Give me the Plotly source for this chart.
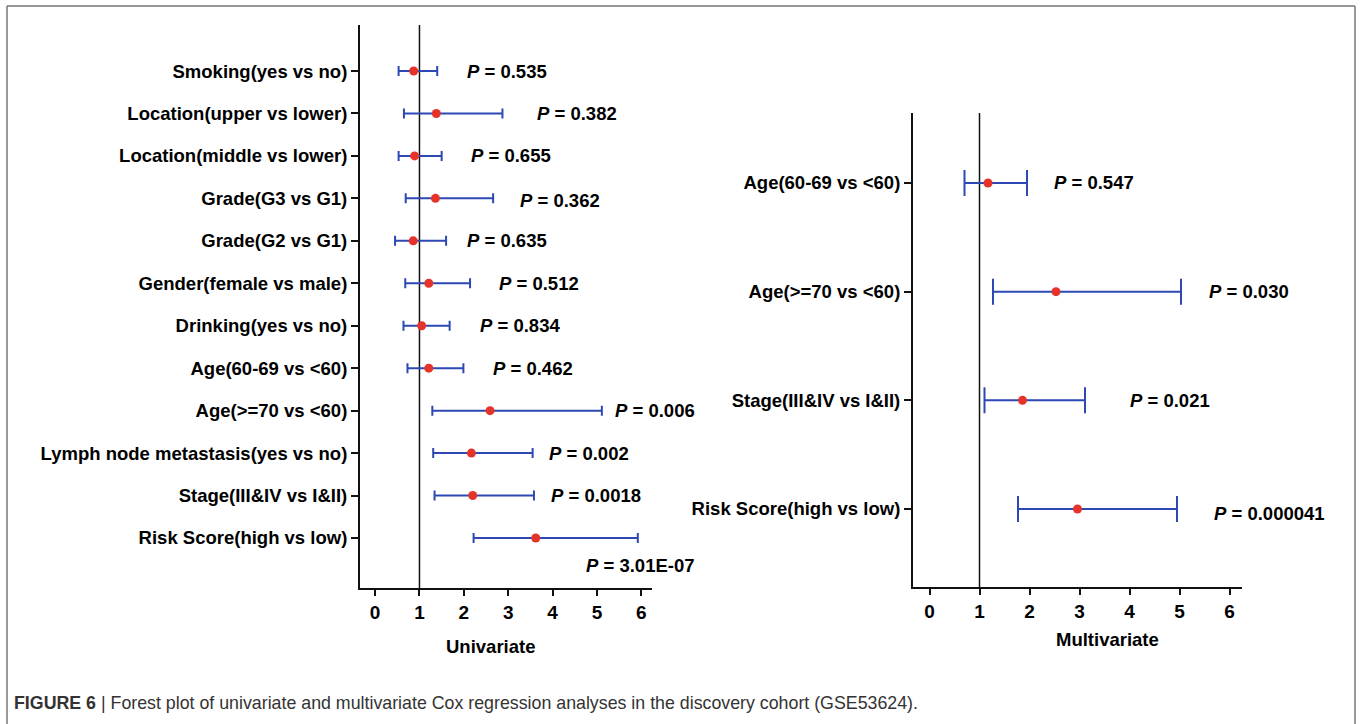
import plotly.graph_objects as go

W, H = 1362, 724

# ---------------- data ----------------
uni_labels = ["Smoking(yes vs no)", "Location(upper vs lower)", "Location(middle vs lower)",
              "Grade(G3 vs G1)", "Grade(G2 vs G1)", "Gender(female vs male)",
              "Drinking(yes vs no)", "Age(60-69 vs <60)", "Age(>=70 vs <60)",
              "Lymph node metastasis(yes vs no)", "Stage(III&IV vs I&II)", "Risk Score(high vs low)"]
uni_hr = [0.87, 1.38, 0.89, 1.36, 0.86, 1.21, 1.05, 1.21, 2.59, 2.17, 2.20, 3.62]
uni_lo = [0.53, 0.65, 0.53, 0.69, 0.45, 0.68, 0.64, 0.73, 1.29, 1.31, 1.34, 2.22]
uni_hi = [1.40, 2.87, 1.50, 2.66, 1.60, 2.14, 1.68, 1.99, 5.11, 3.55, 3.58, 5.92]
uni_p = ["0.535", "0.382", "0.655", "0.362", "0.635", "0.512", "0.834", "0.462",
         "0.006", "0.002", "0.0018", "3.01E-07"]

multi_labels = ["Age(60-69 vs <60)", "Age(>=70 vs <60)", "Stage(III&IV vs I&II)", "Risk Score(high vs low)"]
multi_hr = [1.17, 2.53, 1.86, 2.96]
multi_lo = [0.70, 1.27, 1.10, 1.77]
multi_hi = [1.95, 5.03, 3.11, 4.95]
multi_p = ["0.547", "0.030", "0.021", "0.000041"]

x_ticks = [0, 1, 2, 3, 4, 5, 6]

# ---------------- layout helpers (label placement) ----------------
uni_px = [2.03, 3.61, 2.12, 3.23, 2.03, 2.75, 2.32, 2.62, 5.35, 3.88, 3.93, 4.71]
uni_py = [0, 0, 0, 0.05, 0, 0, 0, 0, 0, 0, 0, 0.64]
multi_px = [2.45, 5.55, 3.97, 5.64]
multi_py = [0, 0, 0, 0.04]

FONT = "Liberation Sans, Arial, Helvetica, sans-serif"
BLUE = "#2d48b3"
RED = "#e5332a"


def esc(s):
    return s.replace("&", "&amp;").replace("<", "&lt;").replace(">", "&gt;")


def px_x(p):
    return p / W


def px_y(p):
    return 1 - p / H


fig = go.Figure()

uni_y = list(range(len(uni_labels)))
multi_y = list(range(len(multi_labels)))

fig.add_trace(go.Scatter(
    x=uni_hr, y=uni_y, mode="markers", xaxis="x", yaxis="y",
    marker=dict(color=RED, size=9),
    error_x=dict(type="data", symmetric=False,
                 array=[h - m for h, m in zip(uni_hi, uni_hr)],
                 arrayminus=[m - l for m, l in zip(uni_hr, uni_lo)],
                 color=BLUE, thickness=2, width=5),
    showlegend=False, hoverinfo="skip"))

fig.add_trace(go.Scatter(
    x=multi_hr, y=multi_y, mode="markers", xaxis="x2", yaxis="y2",
    marker=dict(color=RED, size=9),
    error_x=dict(type="data", symmetric=False,
                 array=[h - m for h, m in zip(multi_hi, multi_hr)],
                 arrayminus=[m - l for m, l in zip(multi_hr, multi_lo)],
                 color=BLUE, thickness=2, width=13),
    showlegend=False, hoverinfo="skip"))

ytickfont = dict(family=FONT, size=18.5, color="black", weight="bold")
xtickfont = dict(family=FONT, size=19, color="black", weight="bold")
axis_common = dict(showline=True, linecolor="#111", linewidth=2, ticks="outside",
                   tickcolor="#111", tickwidth=2, showgrid=False, zeroline=False,
                   fixedrange=True)

fig.update_layout(
    width=W, height=H, margin=dict(l=0, r=0, t=0, b=0),
    paper_bgcolor="white", plot_bgcolor="white",
    xaxis=dict(domain=[px_x(360), px_x(652)], range=[-0.34, 6.24], anchor="y",
               tickvals=x_ticks, ticklen=6, tickfont=xtickfont, **axis_common),
    yaxis=dict(domain=[px_y(588), px_y(25)], range=[12.178, -1.084], anchor="x",
               tickvals=uni_y, ticktext=[esc(s) for s in uni_labels], ticklen=7,
               tickfont=ytickfont, **axis_common),
    xaxis2=dict(domain=[px_x(913), px_x(1242)], range=[-0.33, 6.25], anchor="y2",
                tickvals=x_ticks, ticklen=6, tickfont=xtickfont, **axis_common),
    yaxis2=dict(domain=[px_y(587), px_y(113)], range=[3.718, -0.644], anchor="x2",
                tickvals=multi_y, ticktext=[esc(s) for s in multi_labels], ticklen=7,
                tickfont=ytickfont, **axis_common),
)

# reference lines at HR = 1
fig.add_shape(type="line", xref="x", yref="y domain", x0=1, x1=1, y0=0, y1=1,
              line=dict(color="#111", width=1.5), layer="below")
fig.add_shape(type="line", xref="x2", yref="y2 domain", x0=1, x1=1, y0=0, y1=1,
              line=dict(color="#111", width=1.5), layer="below")

pfont = dict(family=FONT, size=18.5, color="black")
for i, p in enumerate(uni_p):
    fig.add_annotation(x=uni_px[i], y=uni_y[i] + uni_py[i], xref="x", yref="y",
                       text=f"<b><i>P</i> = {p}</b>", showarrow=False,
                       xanchor="left", yanchor="middle", font=pfont)
for i, p in enumerate(multi_p):
    fig.add_annotation(x=multi_px[i], y=multi_y[i] + multi_py[i], xref="x2", yref="y2",
                       text=f"<b><i>P</i> = {p}</b>", showarrow=False,
                       xanchor="left", yanchor="middle", font=pfont)

# axis titles
tfont = dict(family=FONT, size=18.5, color="black")
fig.add_annotation(x=px_x(490), y=px_y(646), xref="paper", yref="paper",
                   text="<b>Univariate</b>", showarrow=False,
                   xanchor="center", yanchor="middle", font=tfont)
fig.add_annotation(x=px_x(1107), y=px_y(639), xref="paper", yref="paper",
                   text="<b>Multivariate</b>", showarrow=False,
                   xanchor="center", yanchor="middle", font=tfont)

# caption
fig.add_annotation(x=px_x(12), y=px_y(703), xref="paper", yref="paper",
                   text="<b>FIGURE 6</b> | Forest plot of univariate and multivariate Cox regression "
                        "analyses in the discovery cohort (GSE53624).",
                   showarrow=False, xanchor="left", yanchor="middle",
                   font=dict(family=FONT, size=17.8, color="#333"))

# frame
frame = dict(color="#777", width=1.5)
fig.add_shape(type="line", xref="paper", yref="paper", x0=px_x(7), x1=px_x(1355),
              y0=px_y(6), y1=px_y(6), line=frame)
fig.add_shape(type="line", xref="paper", yref="paper", x0=px_x(7), x1=px_x(7),
              y0=px_y(6), y1=0, line=frame)
fig.add_shape(type="line", xref="paper", yref="paper", x0=px_x(1355), x1=px_x(1355),
              y0=px_y(6), y1=0, line=frame)

fig.write_html("out.html", config={"displayModeBar": False})
